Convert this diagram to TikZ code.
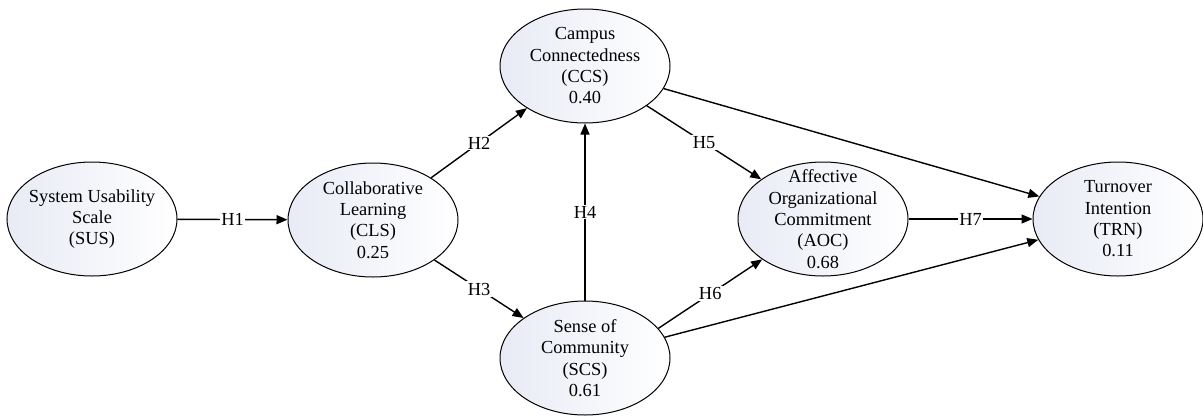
\documentclass[tikz,border=0pt]{standalone}
\usepackage{fontspec}
\setmainfont{Liberation Serif}
\usetikzlibrary{shapes.geometric,arrows.meta}
\definecolor{ellfill}{RGB}{232,235,245}
\begin{document}
\begin{tikzpicture}[x=0.75pt,y=-0.75pt,
  construct/.style={ellipse, draw, line width=0.75pt, minimum width=127.5pt,
    minimum height=85.5pt, inner sep=0pt, left color=ellfill, right color=white},
  ctext/.style={align=center, font=\fontsize{13.8}{16}\selectfont, inner sep=0pt},
  link/.style={line width=1.05pt, -{Triangle[length=8.25pt,width=6.75pt]}},
  hyp/.style={fill=white, inner sep=1pt, font=\fontsize{13.8}{16}\selectfont}]
\useasboundingbox (0,0) rectangle (1203,418);

% constructs
\node[construct, label={[ctext]center:System Usability\\Scale\\(SUS)}] (sus) at (92,219) {};
\node[construct, label={[ctext]center:Collaborative\\Learning\\(CLS)\\0.25}] (cls) at (373,220) {};
\node[construct, label={[ctext]center:Campus\\Connectedness\\(CCS)\\0.40}] (ccs) at (585,66) {};
\node[construct, label={[ctext]center:Sense of\\Community\\(SCS)\\0.61}] (scs) at (585,358) {};
\node[construct, label={[ctext]center:Affective\\Organizational\\Commitment\\(AOC)\\0.68}] (aoc) at (823,219) {};
\node[construct, label={[ctext]center:Turnover\\Intention\\(TRN)\\0.11}] (trn) at (1118,219) {};

% hypothesised paths
\draw[link] (sus) -- node[hyp]{H1} (cls);
\draw[link] (cls) -- node[hyp]{H2} (ccs);
\draw[link] (cls) -- node[hyp]{H3} (scs);
\draw[link] (scs) -- node[hyp]{H4} (ccs);
\draw[link] (ccs) -- node[hyp]{H5} (aoc);
\draw[link] (scs.22) -- node[hyp]{H6} (aoc);
\draw[link] (aoc) -- node[hyp]{H7} (trn);
\draw[link] (ccs) -- (trn);
\draw[link] (scs) -- (trn);
\end{tikzpicture}
\end{document}
